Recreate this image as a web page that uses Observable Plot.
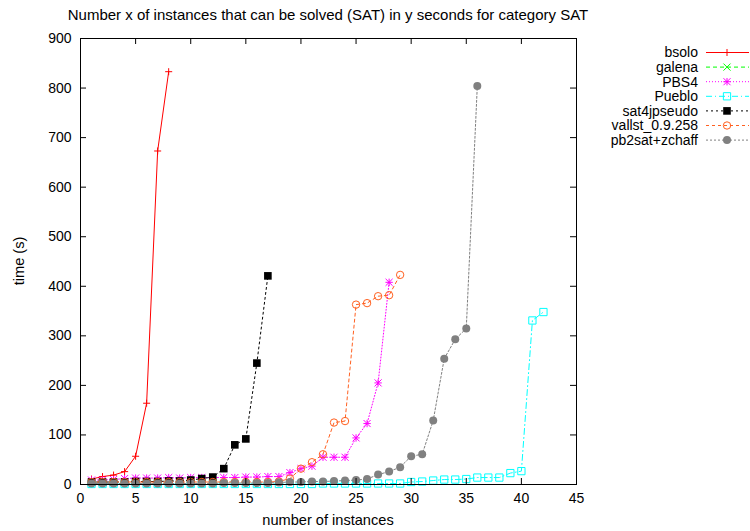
<!DOCTYPE html>
<html>
<head>
<meta charset="utf-8">
<script src="https://cdn.jsdelivr.net/npm/d3@7"></script>
<script src="https://cdn.jsdelivr.net/npm/@observablehq/plot@0.6"></script>
<style>
  body { margin: 0; background: #fff; }
  svg { font-family: "Liberation Sans", Arial, sans-serif; }
</style>
</head>
<body>
<div id="chart"></div>
<script>
// Tick values for both axes
const instanceTicks = [0, 5, 10, 15, 20, 25, 30, 35, 40, 45];
const timeTicks = [0, 100, 200, 300, 400, 500, 600, 700, 800, 900];

// Solvers, in plotting order
const solvers = ["bsolo", "galena", "PBS4", "Pueblo", "sat4jpseudo", "vallst_0.9.258", "pb2sat+zchaff"];

// Cumulative solving time (s) for the n-th solved instance, n = 1, 2, ...
const bsoloTimes = [11, 16, 19, 26, 57, 164, 673, 833];
const galenaTimes = [];
const pbs4Times = [9, 9, 10, 12, 13, 13, 13, 14, 13, 14, 14, 14, 14, 14, 15, 15, 16, 16, 24, 32, 37, 55, 55, 55, 94, 123, 205, 408];
const puebloTimes = [1, 1, 1, 1, 1, 1, 1, 1, 1, 1, 1, 1, 1, 1, 1, 1, 1, 1, 1, 1, 1, 2, 2, 2, 2, 2, 2, 2, 2, 5, 6, 8, 10, 10, 11, 14, 14, 14, 23, 27, 331, 348];
const sat4jTimes = [5, 5, 5, 5, 6, 6, 6, 7, 7, 9, 12, 15, 32, 80, 92, 245, 421];
const vallstTimes = [5, 5, 5, 5, 5, 5, 5, 5, 5, 5, 5, 5, 5, 5, 5, 5, 5, 6, 12, 32, 45, 61, 125, 128, 363, 366, 380, 382, 423];
const pb2satTimes = [2, 2, 2, 2, 2, 2, 2, 2, 2, 2, 2, 2, 3, 3, 3, 3, 3, 4, 5, 5, 6, 6, 7, 8, 9, 11, 20, 26, 35, 57, 61, 129, 254, 293, 315, 804];

const timesBySolver = [bsoloTimes, galenaTimes, pbs4Times, puebloTimes, sat4jTimes, vallstTimes, pb2satTimes];

// Drawing style per solver: colour, dash pattern, point symbols (stacked), radius, filled or open
const looks = [
  {color: "#ff0000", dash: null,        symbols: ["plus"],          r: [2.4],      filled: false},
  {color: "#00ff00", dash: "4,3",       symbols: ["times"],         r: [3.3],      filled: false},
  {color: "#ff00ff", dash: "1,2",       symbols: ["plus", "times"], r: [2.5, 3.3], filled: false},
  {color: "#00ffff", dash: "6,3,1,3",   symbols: ["square"],        r: [4.1],      filled: false},
  {color: "#000000", dash: "2,3",       symbols: ["square"],        r: [4.3],      filled: true},
  {color: "#ff6020", dash: "3,3",       symbols: ["circle"],        r: [3.7],      filled: false},
  {color: "#808080", dash: "2,2",       symbols: ["circle"],        r: [4],        filled: true}
];

const rows = timesBySolver.flatMap((ts, i) => ts.map((t, j) => ({solver: solvers[i], n: j + 1, time: t})));

const W = 750, H = 531;
const M = {top: 38, right: 174, bottom: 47, left: 80};
const innerW = W - M.left - M.right;
const innerH = H - M.top - M.bottom;
const tickLen = 6;

const seriesMarks = solvers.flatMap((name, i) => {
  const data = rows.filter(d => d.solver === name);
  const lk = looks[i];
  const marks = [Plot.line(data, {x: "n", y: "time", stroke: lk.color, strokeWidth: 1, strokeDasharray: lk.dash})];
  lk.symbols.forEach((s, k) => {
    marks.push(Plot.dot(data, lk.filled
      ? {x: "n", y: "time", symbol: s, r: lk.r[k], fill: lk.color, stroke: "none"}
      : {x: "n", y: "time", symbol: s, r: lk.r[k], fill: "none", stroke: lk.color, strokeWidth: 1}));
  });
  return marks;
});

const chart = Plot.plot({
  width: W,
  height: H,
  marginTop: M.top,
  marginRight: M.right,
  marginBottom: M.bottom,
  marginLeft: M.left,
  style: {fontFamily: "Liberation Sans, Arial, sans-serif", fontSize: "14px", background: "#fff", color: "#000"},
  x: {domain: [0, 45]},
  y: {domain: [0, 900]},
  marks: [
    ...seriesMarks,
    Plot.frame({stroke: "#000", strokeWidth: 1}),
    // inward ticks on all four sides
    Plot.tickX(instanceTicks, {x: d => d, insetTop: innerH - tickLen, stroke: "#000"}),
    Plot.tickX(instanceTicks, {x: d => d, insetBottom: innerH - tickLen, stroke: "#000"}),
    Plot.tickY(timeTicks, {y: d => d, insetRight: innerW - tickLen, stroke: "#000"}),
    Plot.tickY(timeTicks, {y: d => d, insetLeft: innerW - tickLen, stroke: "#000"}),
    Plot.axisX(instanceTicks, {tickSize: 0, tickPadding: 9, label: null}),
    Plot.axisY(timeTicks, {tickSize: 0, tickPadding: 9, label: null})
  ]
});

document.getElementById("chart").appendChild(chart);

// Titles and legend
const svg = d3.select(chart);
const cx = M.left + innerW / 2;

svg.append("text")
  .attr("x", cx).attr("y", 20)
  .attr("text-anchor", "middle")
  .style("font-size", "15px")
  .text("Number x of instances that can be solved (SAT) in y seconds for category SAT");

svg.append("text")
  .attr("x", cx).attr("y", 525)
  .attr("text-anchor", "middle")
  .style("font-size", "14.6px")
  .text("number of instances");

svg.append("text")
  .attr("transform", `translate(24,${M.top + innerH / 2}) rotate(-90)`)
  .attr("text-anchor", "middle")
  .style("font-size", "14.6px")
  .text("time (s)");

const d3Symbols = {plus: d3.symbolPlus, times: d3.symbolTimes, square: d3.symbolSquare, circle: d3.symbolCircle};
const legend = svg.append("g");
solvers.forEach((name, i) => {
  const lk = looks[i];
  const y = 52.5 + i * 14.6;
  legend.append("text")
    .attr("x", 698).attr("y", y)
    .attr("dy", "0.35em")
    .attr("text-anchor", "end")
    .style("font-size", "14px")
    .text(name);
  legend.append("line")
    .attr("x1", 706).attr("x2", 749)
    .attr("y1", y).attr("y2", y)
    .attr("stroke", lk.color)
    .attr("stroke-width", 1)
    .attr("stroke-dasharray", lk.dash);
  lk.symbols.forEach((s, k) => {
    legend.append("path")
      .attr("transform", `translate(727,${y})`)
      .attr("d", d3.symbol(d3Symbols[s], Math.PI * lk.r[k] * lk.r[k])())
      .attr("fill", lk.filled ? lk.color : "none")
      .attr("stroke", lk.filled ? "none" : lk.color)
      .attr("stroke-width", 1);
  });
});
</script>
</body>
</html>
